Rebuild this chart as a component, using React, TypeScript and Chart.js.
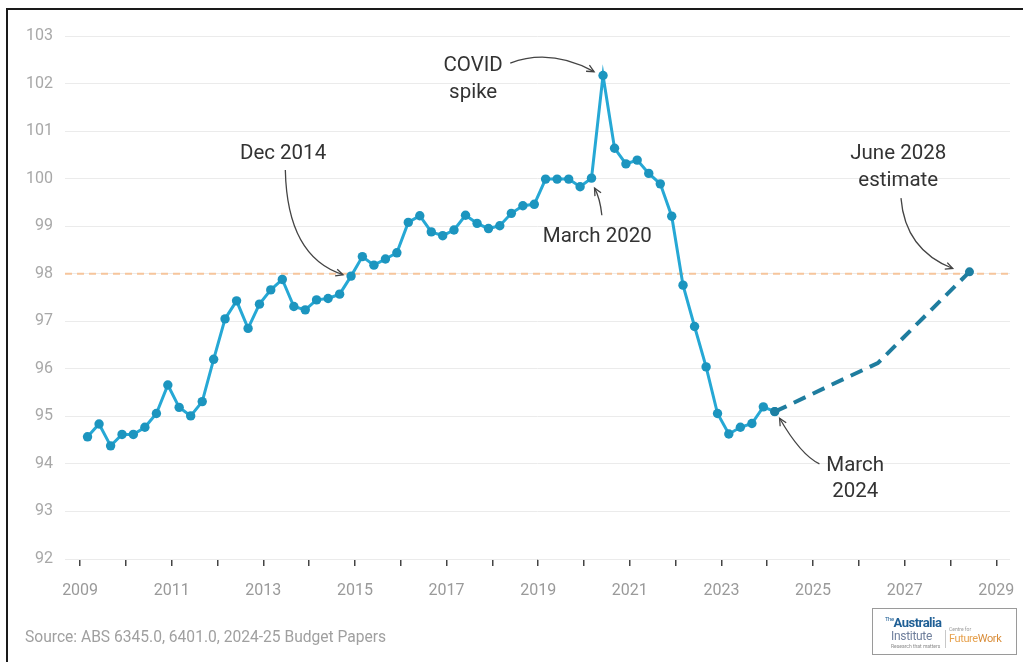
import React, { useEffect, useRef } from "react";
import { Chart, registerables } from "chart.js";

Chart.register(...registerables);

// ---- data ----
const startYear = 2009;
// Quarterly index values, March 2009 .. March 2024 (quarter-end months Mar/Jun/Sep/Dec)
const historyValues = [
  94.57, 94.84, 94.38, 94.62,
  94.62, 94.77, 95.06, 95.66,
  95.19, 95.01, 95.31, 96.2,
  97.05, 97.43, 96.85, 97.36,
  97.66, 97.88, 97.31, 97.24,
  97.45, 97.48, 97.57, 97.95,
  98.36, 98.18, 98.31, 98.44,
  99.08, 99.22, 98.88, 98.8,
  98.92, 99.23, 99.06, 98.95,
  99.01, 99.27, 99.43, 99.46,
  99.99, 99.99, 99.99, 99.83,
  100.01, 102.17, 100.64, 100.31,
  100.39, 100.11, 99.89, 99.21,
  97.76, 96.89, 96.04, 95.06,
  94.63, 94.77, 94.85, 95.2,
  95.1,
];
const quarterMonths = [3, 6, 9, 12];
// Budget projection (year, month, value)
const projectionYears = [2024, 2024, 2025, 2026, 2027, 2028];
const projectionMonths = [3, 6, 6, 6, 6, 6];
const projectionValues = [95.1, 95.21, 95.67, 96.12, 97.08, 98.04];
const referenceLevel = 98;
const yTicks = [92, 93, 94, 95, 96, 97, 98, 99, 100, 101, 102, 103];
const xLabelYears = [2009, 2011, 2013, 2015, 2017, 2019, 2021, 2023, 2025, 2027, 2029];
const xMin = 2008.67;
const xMax = 2029.3;

// annotations in data space
const annotationTexts = [
  { lines: ["Dec 2014"], x: 2013.43, y: 100.52 },
  { lines: ["COVID", "spike"], x: 2017.58, y: 102.37 },
  { lines: ["March 2020"], x: 2020.29, y: 98.77 },
  { lines: ["June 2028", "estimate"], x: 2026.86, y: 100.52 },
  { lines: ["March", "2024"], x: 2025.92, y: 93.96 },
];
const annotationArrows = [
  { from: [2013.48, 100.18], ctrl: [2013.52, 98.35], to: [2014.74, 97.98] },
  { from: [2018.39, 102.43], ctrl: [2019.27, 102.75], to: [2020.22, 102.25] },
  { from: [2020.39, 99.23], ctrl: [2020.35, 99.59], to: [2020.23, 99.8] },
  { from: [2026.92, 99.59], ctrl: [2027.01, 98.5], to: [2028.05, 98.11] },
  { from: [2025.14, 94.0], ctrl: [2024.73, 94.19], to: [2024.27, 94.96] },
];

const FONT = "Roboto, 'Noto Sans', sans-serif";

function decimalYear(year: number, month: number) {
  const d = new Date(Date.UTC(year, month - 1, 1));
  const s = Date.UTC(year, 0, 1);
  const e = Date.UTC(year + 1, 0, 1);
  return year + (d.getTime() - s) / (e - s);
}

const historyPoints = historyValues.map((v, i) => ({
  x: decimalYear(startYear + Math.floor(i / 4), quarterMonths[i % 4]),
  y: v,
}));
const projectionPoints = projectionValues.map((v, i) => ({
  x: decimalYear(projectionYears[i], projectionMonths[i]),
  y: v,
}));

const annotationPlugin = {
  id: "annots",
  afterDatasetsDraw(chart: any) {
    const ctx = chart.ctx;
    const xs = chart.scales.x;
    const ys = chart.scales.y;
    ctx.save();
    ctx.fillStyle = "#333";
    ctx.font = `20.5px ${FONT}`;
    ctx.textAlign = "center";
    ctx.textBaseline = "middle";
    annotationTexts.forEach((a) => {
      const px = xs.getPixelForValue(a.x);
      const py = ys.getPixelForValue(a.y);
      a.lines.forEach((l, i) => ctx.fillText(l, px, py + i * 26.5));
    });
    ctx.strokeStyle = "#444";
    ctx.lineWidth = 1.3;
    annotationArrows.forEach((a) => {
      const sx = xs.getPixelForValue(a.from[0]);
      const sy = ys.getPixelForValue(a.from[1]);
      const cx = xs.getPixelForValue(a.ctrl[0]);
      const cy = ys.getPixelForValue(a.ctrl[1]);
      const ex = xs.getPixelForValue(a.to[0]);
      const ey = ys.getPixelForValue(a.to[1]);
      ctx.beginPath();
      ctx.moveTo(sx, sy);
      ctx.quadraticCurveTo(cx, cy, ex, ey);
      ctx.stroke();
      const ang = Math.atan2(ey - cy, ex - cx);
      const len = 8;
      ctx.beginPath();
      ctx.moveTo(ex - len * Math.cos(ang - 0.45), ey - len * Math.sin(ang - 0.45));
      ctx.lineTo(ex, ey);
      ctx.lineTo(ex - len * Math.cos(ang + 0.45), ey - len * Math.sin(ang + 0.45));
      ctx.stroke();
    });
    ctx.restore();
  },
};

export default function App() {
  const ref = useRef<HTMLCanvasElement>(null);
  useEffect(() => {
    if (!ref.current) return;
    const chart = new Chart(ref.current, {
      type: "line",
      data: {
        datasets: [
          {
            label: "Projection",
            data: projectionPoints,
            borderColor: "#1f7d9f",
            borderWidth: 4,
            borderDash: [13, 8],
            pointRadius: projectionPoints.map((_, i) =>
              i === 0 || i === projectionPoints.length - 1 ? 4.5 : 0
            ),
            pointBackgroundColor: "#1d7fa2",
            pointBorderWidth: 0,
            tension: 0,
          },
          {
            label: "Actual",
            data: historyPoints,
            borderColor: "#26a8d5",
            borderWidth: 3,
            pointRadius: 4.7,
            pointBackgroundColor: "#1c95bf",
            pointBorderWidth: 0,
            tension: 0,
          },
          {
            label: "Reference",
            data: [
              { x: xMin, y: referenceLevel },
              { x: xMax, y: referenceLevel },
            ],
            borderColor: "#f6c59c",
            borderWidth: 2,
            borderDash: [7, 5],
            pointRadius: 0,
          },
        ],
      },
      options: {
        animation: false,
        responsive: false,
        maintainAspectRatio: false,
        layout: { padding: { top: 36, right: 13, left: 0, bottom: 0 } },
        plugins: { legend: { display: false }, tooltip: { enabled: false } },
        scales: {
          x: {
            type: "linear",
            min: xMin,
            max: xMax,
            afterFit: (s: any) => {
              s.height = 103;
              s.paddingLeft = 0;
              s.paddingRight = 0;
            },
            afterBuildTicks: (s: any) => {
              const t: any[] = [];
              for (let y = 2009; y <= 2029; y++) t.push({ value: y });
              s.ticks = t;
            },
            ticks: {
              autoSkip: false,
              maxRotation: 0,
              includeBounds: false,
              color: "#9a9a9a",
              font: { family: FONT, size: 16 },
              padding: 15,
              callback: (v: any) => (xLabelYears.includes(Number(v)) ? String(v) : ""),
            },
            grid: {
              drawOnChartArea: false,
              drawTicks: true,
              tickLength: 7,
              color: "#444",
              lineWidth: 1.5,
            },
            border: { display: false },
          },
          y: {
            min: 92,
            max: 103,
            afterFit: (s: any) => {
              s.width = 65;
              s.paddingTop = 0;
              s.paddingBottom = 0;
            },
            afterBuildTicks: (s: any) => {
              s.ticks = yTicks.map((v) => ({ value: v }));
            },
            ticks: {
              color: "#a8a8a8",
              font: { family: FONT, size: 16 },
              padding: 12,
            },
            grid: { color: "#ebebeb", lineWidth: 1, drawTicks: false },
            border: { display: false },
          },
        },
      },
      plugins: [annotationPlugin],
    } as any);
    return () => chart.destroy();
  }, []);

  return (
    <div
      style={{
        position: "fixed",
        left: 0,
        top: 0,
        width: 1023,
        height: 662,
        background: "#fff",
        overflow: "hidden",
        fontFamily: FONT,
      }}
    >
      <canvas ref={ref} width={1023} height={662} style={{ position: "absolute", left: 0, top: 0 }} />
      <div
        style={{
          position: "absolute",
          left: 6,
          top: 8,
          width: 1040,
          height: 680,
          border: "2.5px solid #1a1a1a",
          pointerEvents: "none",
        }}
      />
      <div
        style={{
          position: "absolute",
          left: 25,
          top: 628,
          fontSize: 15.6,
          color: "#a0a0a0",
          whiteSpace: "nowrap",
        }}
      >
        Source: ABS 6345.0, 6401.0, 2024-25 Budget Papers
      </div>
      <div
        style={{
          position: "absolute",
          left: 872,
          top: 608,
          width: 145,
          height: 47,
          border: "1.5px solid #9a9a9a",
          boxSizing: "border-box",
          background: "#fff",
        }}
      >
        <div style={{ position: "absolute", left: 12, top: 6, fontSize: 13, fontWeight: 700, color: "#1f5f95", letterSpacing: -0.5 }}>
          <span style={{ fontSize: 6, verticalAlign: "top", fontWeight: 400 }}>The</span>Australia
        </div>
        <div style={{ position: "absolute", left: 18, top: 20, fontSize: 12, color: "#6f7f9c", letterSpacing: -0.3 }}>
          Institute
        </div>
        <div style={{ position: "absolute", left: 18, top: 34, fontSize: 5, color: "#8a8a8a" }}>Research that matters</div>
        <div style={{ position: "absolute", left: 72, top: 21, width: 1, height: 18, background: "#c8c8c8" }} />
        <div style={{ position: "absolute", left: 76, top: 17, fontSize: 5, color: "#999" }}>Centre for</div>
        <div style={{ position: "absolute", left: 76, top: 23, fontSize: 11, color: "#e7a24e", letterSpacing: -0.4 }}>
          Future<span style={{ color: "#d98d3a" }}>Work</span>
        </div>
      </div>
    </div>
  );
}
